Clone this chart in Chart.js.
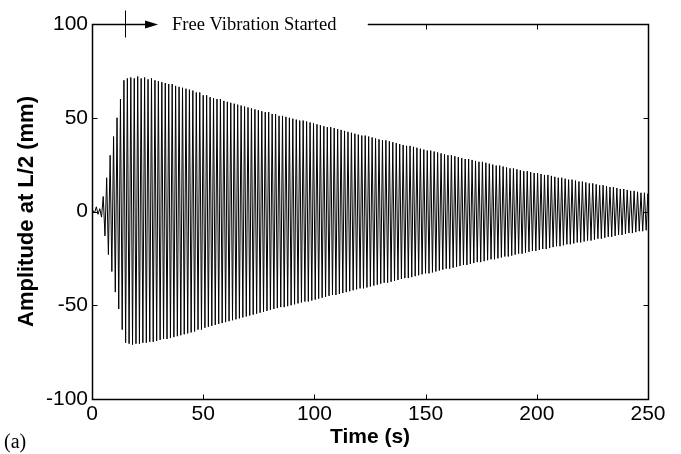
<!DOCTYPE html>
<html>
<head>
<meta charset="utf-8">
<script src="https://cdn.jsdelivr.net/npm/chart.js@4.4.0/dist/chart.umd.min.js"></script>
<style>
    html, body { margin: 0; background: #fff; }
</style>
</head>
<body>
<canvas id="amplitudeChart" width="681" height="454"></canvas>
<script>
// axis ticks
const xTicks = [0, 50, 100, 150, 200, 250];
const yTicks = [-100, -50, 0, 50, 100];

// oscillation: one positive and one negative peak per cycle
const cyclePeriod = 1.55;   // s, spacing of the peaks
const firstPeakTime = 0.4;  // s
const peakTop = [
    0.5, 2.5, 1.5, 8, 18, 30, 40, 50, 60, 70, 71, 71.5, 71, 72, 71, 71.5, 70.5, 71, 70, 69.5,
    69, 68.5, 68, 68, 67, 66.5, 66, 65.5, 65, 64.5, 63.5, 63.5, 62, 62, 61, 60.5, 60, 60, 59, 58.5,
    58, 57.5, 57, 56.5, 56, 55.5, 55, 54.5, 54, 53.5, 53, 53, 52, 52, 51, 51, 50.5, 50, 49.5, 49,
    48.5, 48.5, 48, 47.5, 47, 46.5, 46, 45.5, 45, 45, 44.5, 44, 43.5, 43, 42.5, 42, 41.5, 41, 40.5, 40.5,
    40, 39.5, 39, 38.5, 38, 38, 37.5, 37, 36.5, 36, 35.5, 35, 35, 34.5, 34, 33.5, 33, 32.5, 32.5, 32,
    31.5, 31, 30.5, 30, 30, 29.5, 29, 28.5, 28, 28, 27.5, 27, 26.5, 26.5, 26, 25.5, 25, 24.5, 24.5, 24,
    23.5, 23, 23, 22.5, 22, 21.5, 21.5, 21, 20.5, 20.5, 20, 19.5, 19.5, 19, 18.5, 18, 18, 17.5, 17, 17,
    16.5, 16, 16, 15.5, 15, 15, 14.5, 14, 14, 13.5, 13, 13, 12.5, 12, 12, 11.5, 11, 11, 10.5, 10,
    10, 9.5
];
const peakBottom = [
    -0.5, -1.5, -3, -13, -23, -32, -43, -52, -63, -70, -70.5, -71, -70.5, -70.5, -70, -70, -69.5, -69.5, -69, -68.5,
    -68, -68, -67.5, -67, -66.5, -66, -65.5, -65, -64.5, -64, -63, -63, -62, -61.5, -61, -60.5, -60, -59.5, -59, -58.5,
    -58, -57.5, -57, -56.5, -56, -55.5, -55, -54.5, -54, -53.5, -53, -52.5, -52, -51.5, -51, -51, -50.5, -50, -49.5, -49,
    -48.5, -48, -48, -47.5, -47, -46.5, -46, -45.5, -45, -44.5, -44.5, -44, -43.5, -43, -42.5, -42, -41.5, -41, -41, -40.5,
    -40, -39.5, -39, -38.5, -38, -38, -37.5, -37, -36.5, -36, -35.5, -35.5, -35, -34.5, -34, -33.5, -33, -33, -32.5, -32,
    -31.5, -31, -30.5, -30.5, -30, -29.5, -29, -28.5, -28.5, -28, -27.5, -27, -27, -26.5, -26, -25.5, -25.5, -25, -24.5, -24,
    -24, -23.5, -23, -22.5, -22.5, -22, -21.5, -21, -21, -20.5, -20, -20, -19.5, -19, -18.5, -18.5, -18, -17.5, -17.5, -17,
    -16.5, -16.5, -16, -15.5, -15.5, -15, -14.5, -14.5, -14, -13.5, -13.5, -13, -12.5, -12.5, -12, -11.5, -11.5, -11, -10.5, -10.5,
    -10, -10
];

// annotation on the top edge (time values)
const freeVibrationStart = 14.8;
const arrowTipTime = 29.7;
const labelStartTime = 36;
const labelEndTime = 124;
const annotationText = 'Free Vibration Started';

const points = [{ x: 0, y: 0 }];
peakTop.forEach((v, i) => {
    points.push({ x: firstPeakTime + i * cyclePeriod, y: v });
    points.push({ x: firstPeakTime + (i + 0.5) * cyclePeriod, y: peakBottom[i] });
});

const framePlugin = {
    id: 'frame',
    afterDatasetsDraw(chart) {
        const { ctx, chartArea: a, scales: { x, y } } = chart;
        const L = Math.round(a.left) + 0.5, R = Math.round(a.right) + 0.5;
        const T = Math.round(a.top) + 0.5, B = Math.round(a.bottom) + 0.5;
        ctx.save();
        ctx.strokeStyle = '#000';
        ctx.fillStyle = '#000';
        ctx.lineWidth = 1.5;

        const tip = x.getPixelForValue(arrowTipTime);
        const gapEnd = x.getPixelForValue(labelEndTime);
        ctx.beginPath();
        ctx.moveTo(tip - 10, T);
        ctx.lineTo(L, T);
        ctx.lineTo(L, B);
        ctx.lineTo(R, B);
        ctx.lineTo(R, T);
        ctx.lineTo(gapEnd, T);
        ctx.stroke();

        // inward tick marks
        ctx.lineWidth = 1;
        ctx.beginPath();
        xTicks.slice(1, -1).forEach(v => {
            const px = Math.round(x.getPixelForValue(v)) + 0.5;
            ctx.moveTo(px, B); ctx.lineTo(px, B - 5);
            if (px > gapEnd) { ctx.moveTo(px, T); ctx.lineTo(px, T + 5); }
        });
        yTicks.slice(1, -1).forEach(v => {
            const py = Math.round(y.getPixelForValue(v)) + 0.5;
            ctx.moveTo(L, py); ctx.lineTo(L + 5, py);
            ctx.moveTo(R, py); ctx.lineTo(R - 5, py);
        });
        ctx.stroke();

        // free vibration marker and arrow
        const mx = Math.round(x.getPixelForValue(freeVibrationStart)) + 0.5;
        ctx.beginPath();
        ctx.moveTo(mx, T - 14);
        ctx.lineTo(mx, T + 13);
        ctx.stroke();
        ctx.beginPath();
        ctx.moveTo(tip, T);
        ctx.lineTo(tip - 13, T - 4);
        ctx.lineTo(tip - 13, T + 4);
        ctx.closePath();
        ctx.fill();

        ctx.font = '18.5px "Liberation Serif", "Times New Roman", serif';
        ctx.textBaseline = 'middle';
        ctx.textAlign = 'left';
        ctx.fillText(annotationText, x.getPixelForValue(labelStartTime), T + 1);

        ctx.font = '20px "Liberation Serif", "Times New Roman", serif';
        ctx.textBaseline = 'alphabetic';
        ctx.fillText('(a)', 4, 448);
        ctx.restore();
    }
};

const tickFont = { family: '"Liberation Sans", Arial, sans-serif', size: 21 };
const xTitleFont = { family: '"Liberation Sans", Arial, sans-serif', size: 21, weight: 'bold' };
const yTitleFont = { family: '"Liberation Sans", Arial, sans-serif', size: 22, weight: 'bold' };

new Chart(document.getElementById('amplitudeChart').getContext('2d'), {
    type: 'line',
    data: {
        datasets: [{
            data: points,
            borderColor: '#000',
            borderWidth: 1,
            pointRadius: 0,
            tension: 0,
            fill: false
        }]
    },
    options: {
        responsive: false,
        animation: false,
        events: [],
        layout: { padding: { left: 0, right: 33, top: 24, bottom: 0 } },
        plugins: {
            legend: { display: false },
            tooltip: { enabled: false }
        },
        scales: {
            x: {
                type: 'linear',
                min: 0,
                max: 250,
                afterFit(scale) { scale.height = 55; },
                afterBuildTicks(scale) { scale.ticks = xTicks.map(v => ({ value: v })); },
                grid: { display: false, drawTicks: false },
                border: { display: false },
                ticks: { font: tickFont, color: '#000', padding: 3, maxRotation: 0 },
                title: { display: true, text: 'Time (s)', font: xTitleFont, color: '#000', padding: { top: 0, bottom: 4 } }
            },
            y: {
                min: -100,
                max: 100,
                afterFit(scale) { scale.width = 92; },
                afterBuildTicks(scale) { scale.ticks = yTicks.map(v => ({ value: v })); },
                grid: { display: false, drawTicks: false },
                border: { display: false },
                ticks: { font: tickFont, color: '#000', padding: 4 },
                title: { display: true, text: 'Amplitude at L/2 (mm)', font: yTitleFont, color: '#000', padding: { top: 14, bottom: 0 } }
            }
        }
    },
    plugins: [framePlugin]
});
</script>
</body>
</html>
